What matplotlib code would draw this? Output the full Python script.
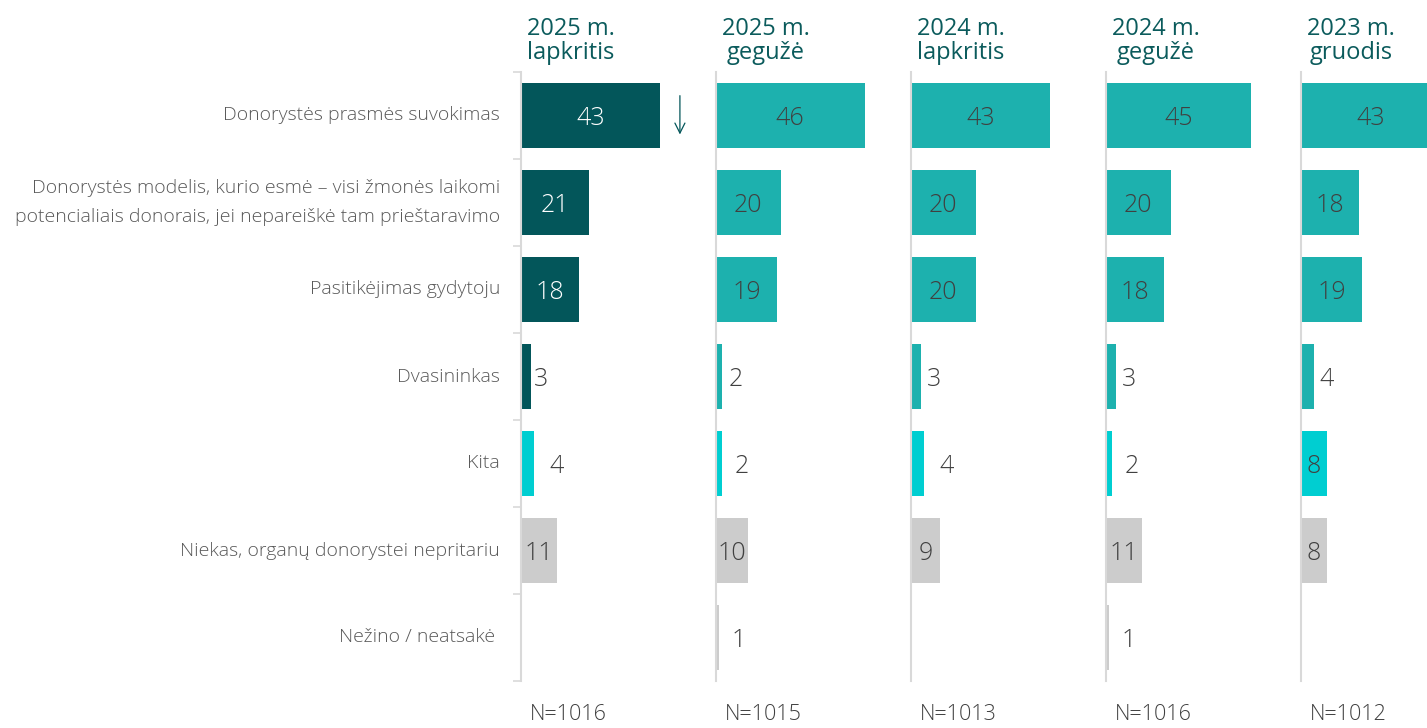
import numpy as np
import matplotlib.pyplot as plt

plt.rcParams['font.family'] = ['Open Sans', 'DejaVu Sans']

# duomenys
kategorijos = ['Donorystės prasmės suvokimas',
               'Donorystės modelis, kurio esmė – visi žmonės laikomi\npotencialiais donorais, jei nepareiškė tam prieštaravimo',
               'Pasitikėjimas gydytoju',
               'Dvasininkas',
               'Kita',
               'Niekas, organų donorystei nepritariu',
               'Nežino / neatsakė ']
laikotarpiai = ['2025 m.\nlapkritis', '2025 m.\ngegužė', '2024 m.\nlapkritis',
                '2024 m.\ngegužė', '2023 m.\ngruodis']
imtys = ['N=1016', 'N=1015', 'N=1013', 'N=1016', 'N=1012']

v_2025_11 = [43, 21, 18, 3, 4, 11, None]
v_2025_05 = [46, 20, 19, 2, 2, 10, 1]
v_2024_11 = [43, 20, 20, 3, 4, 9, None]
v_2024_05 = [45, 20, 18, 3, 2, 11, 1]
v_2023_12 = [43, 18, 19, 4, 8, 8, None]
reiksmes = [v_2025_11, v_2025_05, v_2024_11, v_2024_05, v_2023_12]

tamsi = '#03565A'
zalia = '#1DB1AE'
zydra = '#00CED1'
pilka = '#CCCCCC'
tekstas = '#595959'

W, H = 1427, 728
fig = plt.figure(figsize=(W / 100, H / 100), dpi=100)

x0 = [521, 716, 911, 1106, 1301]
pw = 195
ytop, ybot = 72, 681
y = np.arange(len(kategorijos))

for p in range(5):
    ax = fig.add_axes([x0[p] / W, 1 - ybot / H, pw / W, (ybot - ytop) / H])
    vals = reiksmes[p]
    spalvos = []
    for i in range(len(vals)):
        if i <= 3:
            spalvos.append(tamsi if p == 0 else zalia)
        elif i == 4:
            spalvos.append(zydra)
        else:
            spalvos.append(pilka)
    for i, v in enumerate(vals):
        if v is None:
            continue
        ax.barh(y[i], v, height=0.74, color=spalvos[i], clip_on=False)
        if v >= 8:
            c = 'white' if spalvos[i] == tamsi else '#404040'
            ax.text(v / 2, y[i], str(v), ha='center', va='center_baseline', fontsize=18,
                    color=c, fontweight='light')
        else:
            off = 3
            if i == 4:
                off = 16 if v >= 4 else 12
            elif i == 6:
                off = 12
            elif p > 0:
                off = 6
            ax.annotate(str(v), (v, y[i]), xytext=(off * 0.72, 0), textcoords='offset points',
                        ha='left', va='center_baseline', fontsize=18, color='#404040',
                        fontweight='light')
    ax.set_xlim(0, pw / 3.23)
    ax.set_ylim(6.5, -0.5)
    for s in ['top', 'right', 'bottom']:
        ax.spines[s].set_visible(False)
    ax.spines['left'].set_color('#D9D9D9')
    ax.spines['left'].set_linewidth(1.5)
    ax.set_xticks([])
    if p == 0:
        ax.set_yticks(np.arange(-0.5, 7, 1))
        ax.set_yticklabels([])
        ax.tick_params(axis='y', length=6, color='#D9D9D9', width=1.2)
        for i, k in enumerate(kategorijos):
            ax.annotate(k, (0, y[i]), xytext=(-21 * 0.72, 0), textcoords='offset points',
                        ha='right', va='center', fontsize=14, color=tekstas,
                        fontweight='light', linespacing=1.75)
        ax.annotate('', xy=(49.2, 0.25), xytext=(49.2, -0.26),
                    arrowprops=dict(arrowstyle='->', color=tamsi, lw=0.9,
                                    mutation_scale=18))
    else:
        ax.set_yticks([])
    ax.set_facecolor('none')

    fig.text((x0[p] + 50) / W, 1 - 41 / H, laikotarpiai[p], ha='center', va='center',
             fontsize=17, color='#0B5B5C', linespacing=1.05)
    fig.text((x0[p] + 47) / W, 1 - 714 / H, imtys[p], ha='center', va='center',
             fontsize=15.5, color='#404040', fontweight='light')

fig.savefig('out.png', dpi=100)
